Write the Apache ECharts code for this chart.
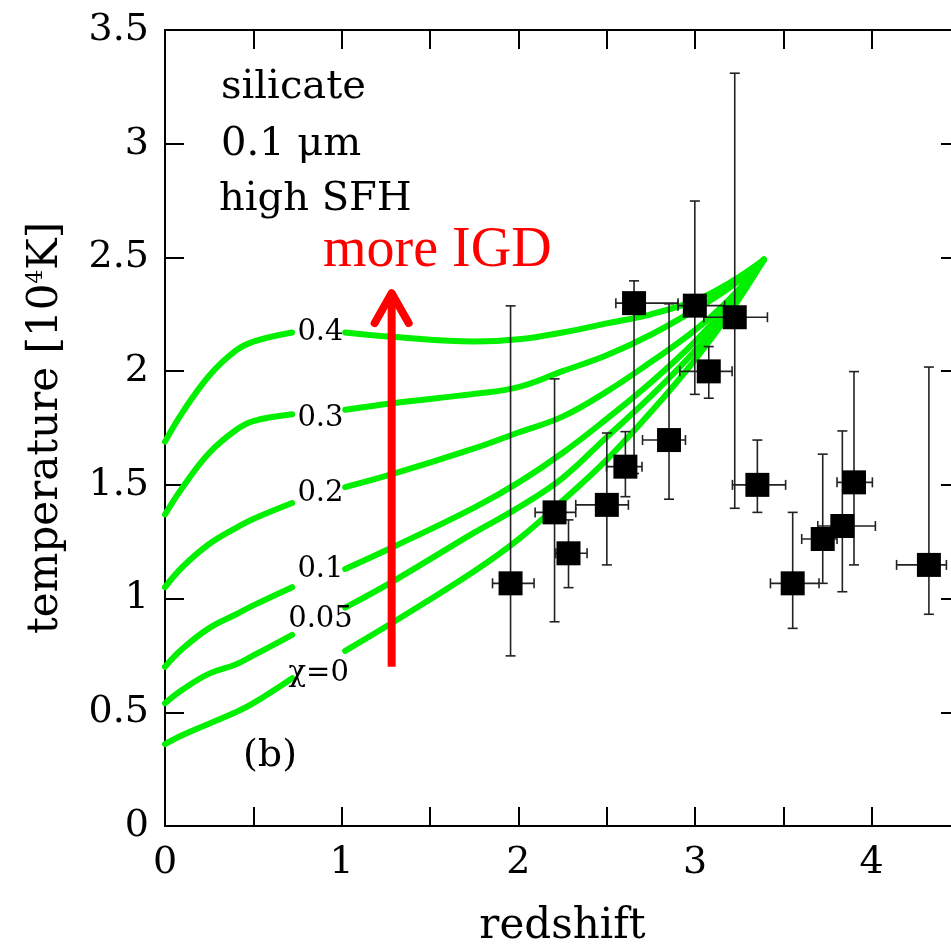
<!DOCTYPE html>
<html lang="en">
<head>
    <meta charset="UTF-8">
    <title>temperature vs redshift (b)</title>
    <script src="https://cdn.jsdelivr.net/npm/echarts@6/dist/echarts.min.js"></script>
    <style>
        html, body { margin: 0; padding: 0; background: #fff; }
        #main { width: 951px; height: 952px; }
    </style>
</head>
<body>
<div id="main"></div>
<script>
    // model curves (one per chi value), '-' marks the gap left for the label
    var zGrid = [0, 0.1, 0.25, 0.4, 0.5, 0.72, 0.85, 1.02, 1.3, 1.75, 2.0, 2.25, 2.5, 2.75, 3.0, 3.2, 3.39];
    var c04  = [1.69, 1.82, 1.98, 2.09, 2.13, 2.17, '-', 2.17, 2.15, 2.13, 2.14, 2.17, 2.21, 2.25, 2.31, 2.39, 2.49];
    var c03  = [1.37, 1.49, 1.64, 1.74, 1.78, 1.81, '-', 1.83, 1.86, 1.90, 1.93, 2.00, 2.07, 2.16, 2.27, 2.37, 2.49];
    var c02  = [1.05, 1.14, 1.24, 1.31, 1.35, 1.42, '-', 1.49, 1.55, 1.66, 1.73, 1.80, 1.91, 2.04, 2.18, 2.32, 2.49];
    var c01  = [0.70, 0.78, 0.87, 0.93, 0.97, 1.05, '-', 1.13, 1.23, 1.40, 1.51, 1.64, 1.79, 1.95, 2.13, 2.30, 2.49];
    var c005 = [0.54, 0.60, 0.67, 0.71, 0.75, 0.84, '-', 0.96, 1.08, 1.29, 1.40, 1.53, 1.71, 1.89, 2.09, 2.28, 2.49];
    var c0   = [0.36, 0.40, 0.45, 0.50, 0.54, 0.65, '-', 0.77, 0.90, 1.12, 1.26, 1.43, 1.61, 1.82, 2.05, 2.26, 2.49];
    var curves = [c04, c03, c02, c01, c005, c0];

    // curve labels
    var curveNames  = ['0.4', '0.3', '0.2', '0.1', '0.05', 'χ=0'];
    var curveLabelZ = [0.88, 0.88, 0.88, 0.88, 0.88, 0.87];
    var curveLabelT = [2.17, 1.79, 1.46, 1.13, 0.91, 0.67];

    // observed points: redshift, temperature, and error ranges
    var obsZ   = [1.956, 2.205, 2.284, 2.501, 2.606, 2.655, 2.853, 2.999, 3.078, 3.225, 3.353, 3.553, 3.723, 3.834, 3.900, 4.324];
    var obsT   = [1.067, 1.379, 1.199, 1.412, 1.580, 2.299, 1.697, 2.288, 1.999, 2.237, 1.500, 1.067, 1.262, 1.319, 1.511, 1.148];
    var obsTlo = [0.748, 0.898, 1.048, 1.148, 1.448, 1.550, 1.437, 1.898, 1.881, 1.397, 1.379, 0.869, 1.067, 1.030, 1.148, 0.931];
    var obsThi = [2.287, 1.966, 1.346, 1.728, 1.734, 2.397, 2.296, 2.748, 2.108, 3.310, 1.697, 1.379, 1.635, 1.737, 1.998, 2.018];
    var obsZlo = [1.854, 2.095, 2.212, 2.325, 2.499, 2.552, 2.703, 2.904, 2.914, 3.050, 3.212, 3.427, 3.604, 3.695, 3.804, 4.141];
    var obsZhi = [2.089, 2.325, 2.389, 2.623, 2.700, 2.904, 2.946, 3.168, 3.210, 3.410, 3.513, 3.702, 3.804, 4.021, 4.004, 4.423];

    // "more IGD" arrow
    var arrowZ = [1.283];
    var arrowFrom = [0.70];
    var arrowTo = [2.343];

    var serif = '"DejaVu Serif", serif';

    var series = [];
    curves.forEach(function (vals, k) {
        series.push({
            type: 'line',
            name: curveNames[k],
            data: zGrid.map(function (z, i) { return [z, vals[i]]; }),
            showSymbol: false,
            smooth: 0.4,
            connectNulls: false,
            lineStyle: {color: '#00f000', width: 6, cap: 'round'},
            z: 2
        });
    });

    series.push({
        type: 'scatter',
        data: curveLabelZ.map(function (z, i) { return [z, curveLabelT[i], curveNames[i]]; }),
        symbolSize: 1,
        itemStyle: {color: 'rgba(0,0,0,0)', opacity: 1},
        label: {
            show: true,
            position: 'inside',
            formatter: function (p) { return p.data[2]; },
            fontFamily: serif,
            fontSize: 29,
            color: '#000',
            opacity: 1,
            textBorderWidth: 0
        },
        z: 3
    });

    series.push({
        type: 'custom',
        data: obsZ.map(function (z, i) { return [z, obsT[i], obsTlo[i], obsThi[i], obsZlo[i], obsZhi[i]]; }),
        renderItem: function (params, api) {
            var z = api.value(0), t = api.value(1);
            var top = api.coord([z, api.value(3)]);
            var bot = api.coord([z, api.value(2)]);
            var lft = api.coord([api.value(4), t]);
            var rgt = api.coord([api.value(5), t]);
            var st = {stroke: '#222', lineWidth: 1.6};
            var c = 5;
            function seg(x1, y1, x2, y2) {
                return {type: 'line', shape: {x1: x1, y1: y1, x2: x2, y2: y2}, style: st};
            }
            return {
                type: 'group',
                children: [
                    seg(top[0], top[1], bot[0], bot[1]),
                    seg(top[0] - c, top[1], top[0] + c, top[1]),
                    seg(bot[0] - c, bot[1], bot[0] + c, bot[1]),
                    seg(lft[0], lft[1], rgt[0], rgt[1]),
                    seg(lft[0], lft[1] - c, lft[0], lft[1] + c),
                    seg(rgt[0], rgt[1] - c, rgt[0], rgt[1] + c)
                ]
            };
        },
        z: 4
    });

    series.push({
        type: 'scatter',
        data: obsZ.map(function (z, i) { return [z, obsT[i]]; }),
        symbol: 'rect',
        symbolSize: 24,
        itemStyle: {color: '#000', opacity: 1},
        z: 5
    });

    series.push({
        type: 'custom',
        data: arrowZ.map(function (z, i) { return [z, arrowFrom[i], arrowTo[i]]; }),
        renderItem: function (params, api) {
            var a = api.coord([api.value(0), api.value(1)]);
            var b = api.coord([api.value(0), api.value(2)]);
            var st = {stroke: '#ff0000', lineWidth: 8, lineCap: 'round', lineJoin: 'round', fill: null};
            return {
                type: 'group',
                children: [
                    {type: 'line', shape: {x1: a[0], y1: a[1], x2: b[0], y2: b[1] + 3},
                        style: {stroke: '#ff0000', lineWidth: 8}},
                    {type: 'polyline', shape: {points: [[b[0] - 17, b[1] + 30], [b[0], b[1]], [b[0] + 17, b[1] + 30]]},
                        style: st}
                ]
            };
        },
        z: 6
    });

    var axisLineStyle = {color: '#000', width: 2};
    var option = {
        animation: false,
        backgroundColor: '#fff',
        grid: {left: 165, top: 30, width: 795, height: 796, containLabel: false, outerBoundsMode: 'none'},
        xAxis: [{
            type: 'value', min: 0, max: 4.5, interval: 0.5, position: 'bottom',
            axisLine: {onZero: false, lineStyle: axisLineStyle},
            axisTick: {inside: true, length: 19, lineStyle: axisLineStyle},
            axisLabel: {
                margin: 18, fontFamily: serif, fontSize: 38, color: '#000',
                formatter: function (v) { return Number.isInteger(v) ? String(v) : ''; }
            },
            splitLine: {show: false},
            name: 'redshift', nameLocation: 'middle', nameGap: 80,
            nameTextStyle: {fontFamily: serif, fontSize: 42, color: '#000'}
        }, {
            type: 'value', min: 0, max: 4.5, interval: 0.5, position: 'top',
            axisLine: {onZero: false, lineStyle: axisLineStyle},
            axisTick: {inside: true, length: 19, lineStyle: axisLineStyle},
            axisLabel: {show: false},
            splitLine: {show: false}
        }],
        yAxis: [{
            type: 'value', min: 0, max: 3.5, interval: 0.5, position: 'left',
            axisLine: {onZero: false, lineStyle: axisLineStyle},
            axisTick: {inside: true, length: 19, lineStyle: axisLineStyle},
            axisLabel: {margin: 16, fontFamily: serif, fontSize: 38, color: '#000'},
            splitLine: {show: false},
            name: 'temperature [10{sup|4}K]', nameLocation: 'middle', nameGap: 98, nameRotate: 90,
            nameTextStyle: {
                fontFamily: serif, fontSize: 42, color: '#000',
                rich: {sup: {fontFamily: serif, fontSize: 22, color: '#000', verticalAlign: 'top'}}
            }
        }, {
            type: 'value', min: 0, max: 3.5, interval: 0.5, position: 'right',
            axisLine: {onZero: false, lineStyle: axisLineStyle},
            axisTick: {inside: true, length: 19, lineStyle: axisLineStyle},
            axisLabel: {show: false},
            splitLine: {show: false}
        }],
        graphic: [
            {type: 'text', left: 221, top: 68, style: {text: 'silicate', font: '40px "DejaVu Serif"', fill: '#000'}},
            {type: 'text', left: 221, top: 125, style: {text: '0.1 μm', font: '40px "DejaVu Serif"', fill: '#000'}},
            {type: 'text', left: 219, top: 180, style: {text: 'high SFH', font: '40px "DejaVu Serif"', fill: '#000'}},
            {type: 'text', left: 323, top: 223, style: {text: 'more IGD', font: '56px "Liberation Serif"', fill: '#ff0000'}},
            {type: 'text', left: 243, top: 737, style: {text: '(b)', font: '38px "DejaVu Serif"', fill: '#000'}}
        ],
        series: series
    };

    var myChart = echarts.init(document.getElementById('main'));
    myChart.setOption(option);
</script>
</body>
</html>
